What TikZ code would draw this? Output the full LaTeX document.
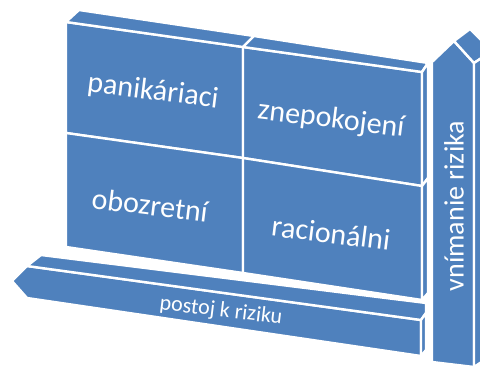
\documentclass[tikz,border=0pt]{standalone}
\usepackage{fontspec}
\setmainfont{Carlito}
\definecolor{bl}{RGB}{79,129,189}
\begin{document}
\begin{tikzpicture}[x=1pt,y=-1pt,
  face/.style={fill=bl,draw=white,line width=2.4pt,line join=round},
  lab/.style={text=white,inner sep=0pt,font=\fontsize{30}{36}\selectfont},
  smalllab/.style={text=white,inner sep=0pt,font=\fontsize{22}{26}\selectfont}]
\useasboundingbox (0,0) rectangle (480,369);
\clip (0,0) rectangle (480,369);
% grid slab: front cells
\filldraw[face] (66,22) -- (243,47) -- (243,158) -- (66,133) -- cycle;
\filldraw[face] (243,47) -- (422,72) -- (422,186) -- (243,158) -- cycle;
\filldraw[face] (66,133) -- (243,158) -- (243,273) -- (66,247) -- cycle;
\filldraw[face] (243,158) -- (422,186) -- (422,300) -- (243,273) -- cycle;
% top faces
\filldraw[face] (66,22) -- (243,47) -- (254,36) -- (79,10) -- cycle;
\filldraw[face] (243,47) -- (422,72) -- (428,63) -- (254,36) -- cycle;
% side faces
\filldraw[face] (422,72) -- (428,63) -- (428,178) -- (422,186) -- cycle;
\filldraw[face] (422,186) -- (428,178) -- (428,293) -- (422,300) -- cycle;
% horizontal arrow
\filldraw[face] (12,281) -- (27,266) -- (421,320) -- (421,356) -- (27,298) -- cycle;
\filldraw[face] (27,266) -- (421,320) -- (426,313) -- (426,303) -- (41,255) -- cycle;
\filldraw[face] (421,320) -- (426,313) -- (426,350) -- (421,356) -- cycle;
% vertical arrow
\filldraw[face] (432,362) -- (432,62) -- (454,41) -- (474,63) -- (474,367) -- cycle;
\filldraw[face] (454,41) -- (470,29) -- (492,51) -- (474,63) -- cycle;
\filldraw[face] (474,63) -- (492,51) -- (492,355) -- (474,367) -- cycle;
% labels
\node[lab,rotate=-7] (pan) at (153,92) {panikáriaci};
\node[lab,rotate=-7] (zne) at (331,120) {znepokojení};
\node[lab,rotate=-7] (obo) at (150,205) {obozretní};
\node[lab,rotate=-7] (rac) at (331,233) {racionálni};
\node[smalllab,rotate=-7] (pos) at (221,311) {postoj k riziku};
\node[lab,rotate=90,font=\fontsize{28}{34}\selectfont] (vni) at (454,206) {vnímanie rizika};
\end{tikzpicture}
\end{document}
